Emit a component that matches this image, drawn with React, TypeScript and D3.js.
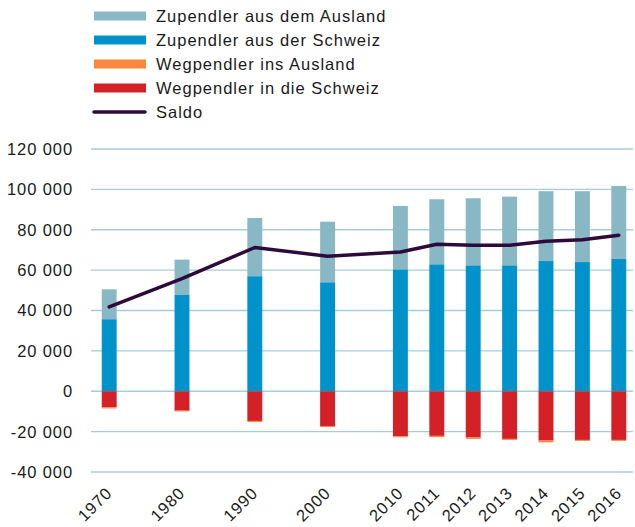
import React, { useRef, useEffect } from "react";
import * as d3 from "d3";

// Pendler data (in persons)
const years = ["1970", "1980", "1990", "2000", "2010", "2011", "2012", "2013", "2014", "2015", "2016"];
// band slots incl. empty spacers between decades
const slots = ["1970", "1975", "1980", "1985", "1990", "1995", "2000", "2005", "2010", "2011", "2012", "2013", "2014", "2015", "2016"];

const zupSchweiz = [35700, 47700, 57000, 54000, 60400, 62900, 62400, 62400, 64500, 64000, 65500];
const zupAusland = [14800, 17500, 28800, 30000, 31400, 32200, 33200, 34000, 34600, 35100, 36200];
const wegSchweiz = [-8000, -9600, -14700, -17200, -22300, -22100, -22900, -23600, -24400, -24100, -24100];
const wegAusland = [-500, -400, -500, -500, -500, -600, -700, -500, -900, -500, -500];
const saldo = [41800, 55800, 71200, 66900, 69000, 72800, 72300, 72300, 74300, 75100, 77300];

const yTicks = [-40000, -20000, 0, 20000, 40000, 60000, 80000, 100000, 120000];

const legendItems = [
  { label: "Zupendler aus dem Ausland", color: "#87b8c3", type: "bar" },
  { label: "Zupendler aus der Schweiz", color: "#0093cb", type: "bar" },
  { label: "Wegpendler ins Ausland", color: "#f5873f", type: "bar" },
  { label: "Wegpendler in die Schweiz", color: "#d42027", type: "bar" },
  { label: "Saldo", color: "#2d0a3b", type: "line" },
];

const W = 635;
const H = 527;
const FONT = "'Liberation Sans', Arial, sans-serif";

const App = () => {
  const ref = useRef<SVGSVGElement>(null);

  useEffect(() => {
    const svg = d3.select(ref.current);
    svg.selectAll("*").remove();

    const x = d3.scaleBand().domain(slots).range([91, 637]).paddingInner(0.59).paddingOuter(0.295);
    const y = d3.scaleLinear().domain([-40000, 120000]).range([472, 149]);
    const cx = (yr: string) => (x(yr) as number) + x.bandwidth() / 2;

    // gridlines + y labels
    const grid = svg.append("g");
    grid.selectAll("line")
      .data(yTicks)
      .join("line")
      .attr("x1", 91)
      .attr("x2", 633)
      .attr("y1", d => y(d))
      .attr("y2", d => y(d))
      .attr("stroke", "#a9cdd7")
      .attr("stroke-width", 1.4);

    const fmt = (v: number) => d3.format(",")(v).replace(/,/g, " ").replace("−", "-");
    grid.selectAll("text")
      .data(yTicks)
      .join("text")
      .attr("x", 73)
      .attr("y", d => y(d))
      .attr("dy", "0.36em")
      .attr("text-anchor", "end")
      .style("font-family", FONT)
      .style("font-size", "16.5px")
      .style("letter-spacing", "0.9px")
      .attr("fill", "#1a1a1a")
      .text(d => fmt(d));

    // bars
    const bars = svg.append("g");
    years.forEach((yr, i) => {
      const x0 = x(yr) as number;
      const bw = x.bandwidth();
      const segs = [
        { a: 0, b: zupSchweiz[i], c: legendItems[1].color },
        { a: zupSchweiz[i], b: zupSchweiz[i] + zupAusland[i], c: legendItems[0].color },
        { a: 0, b: wegSchweiz[i], c: legendItems[3].color },
        { a: wegSchweiz[i], b: wegSchweiz[i] + wegAusland[i], c: legendItems[2].color },
      ];
      segs.forEach(s => {
        bars.append("rect")
          .attr("x", x0)
          .attr("width", bw)
          .attr("y", y(Math.max(s.a, s.b)))
          .attr("height", Math.abs(y(s.a) - y(s.b)))
          .attr("fill", s.c);
      });
    });

    // saldo line
    const line = d3.line<number>()
      .x((_, i) => cx(years[i]))
      .y(d => y(d));
    svg.append("path")
      .datum(saldo)
      .attr("d", line)
      .attr("fill", "none")
      .attr("stroke", legendItems[4].color)
      .attr("stroke-width", 3.5)
      .attr("stroke-linejoin", "round")
      .attr("stroke-linecap", "round");

    // x labels
    svg.append("g")
      .selectAll("text")
      .data(years)
      .join("text")
      .attr("transform", d => `translate(${cx(d) + 4},${494}) rotate(-45)`)
      .attr("text-anchor", "end")
      .style("font-family", FONT)
      .style("font-size", "16.5px")
      .style("letter-spacing", "0.9px")
      .attr("fill", "#1a1a1a")
      .text(d => d);

    // legend
    const lg = svg.append("g");
    legendItems.forEach((it, i) => {
      const cy = 16 + i * 24;
      if (it.type === "bar") {
        lg.append("rect").attr("x", 94).attr("y", cy - 4.5).attr("width", 52).attr("height", 9).attr("fill", it.color);
      } else {
        lg.append("line").attr("x1", 94).attr("x2", 145).attr("y1", cy).attr("y2", cy)
          .attr("stroke", it.color).attr("stroke-width", 3.5).attr("stroke-linecap", "round");
      }
      lg.append("text")
        .attr("x", 156)
        .attr("y", cy)
        .attr("dy", "0.36em")
        .style("font-family", FONT)
        .style("font-size", "16.5px")
        .style("letter-spacing", "1px")
        .attr("fill", "#1a1a1a")
        .text(it.label);
    });
  }, []);

  return <svg ref={ref} width={W} height={H} style={{ position: "absolute", left: 0, top: 0, background: "#fff" }} />;
};

export default App;
